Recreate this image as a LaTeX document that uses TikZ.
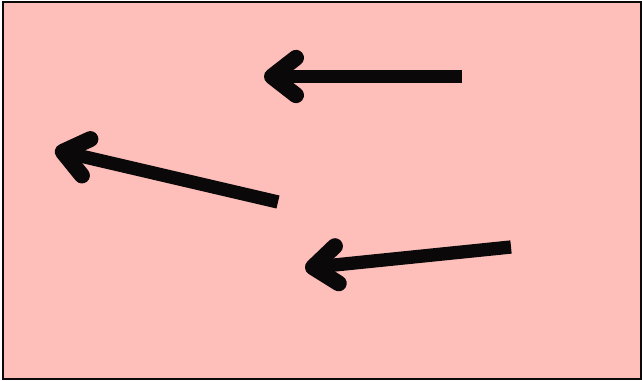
\documentclass[tikz,border=0pt]{standalone}
\usepackage{xcolor}
\usepackage{tikz}
\usetikzlibrary{arrows.meta}
\definecolor{panelpink}{RGB}{254, 191, 187}
\definecolor{inkblack}{RGB}{10, 8, 8}

\begin{document}
\begin{tikzpicture}[x=0.03cm, y=-0.03cm,
    panel/.style={draw=inkblack, fill=panelpink, line width=0.06cm},
    fatarrow/.style={draw=inkblack, line width=0.4cm, line cap=butt, -{Straight Barb[length=0.72cm, width=1.12cm, line width=0.48cm, round]}}]

    \useasboundingbox (0,0) rectangle (642,380);
    \path [panel] (2.5,1.5) rectangle (640.5,378.5);

    \coordinate (topTail) at (462,76.5);
    \coordinate (topHead) at (264,76.5);
    \coordinate (leftTail) at (278,202);
    \coordinate (leftHead) at (55,150);
    \coordinate (lowTail) at (511,247);
    \coordinate (lowHead) at (305,268);

    \path [fatarrow] (topTail) -- (topHead);
    \path [fatarrow] (leftTail) -- (leftHead);
    \path [fatarrow] (lowTail) -- (lowHead);
\end{tikzpicture}
\end{document}
